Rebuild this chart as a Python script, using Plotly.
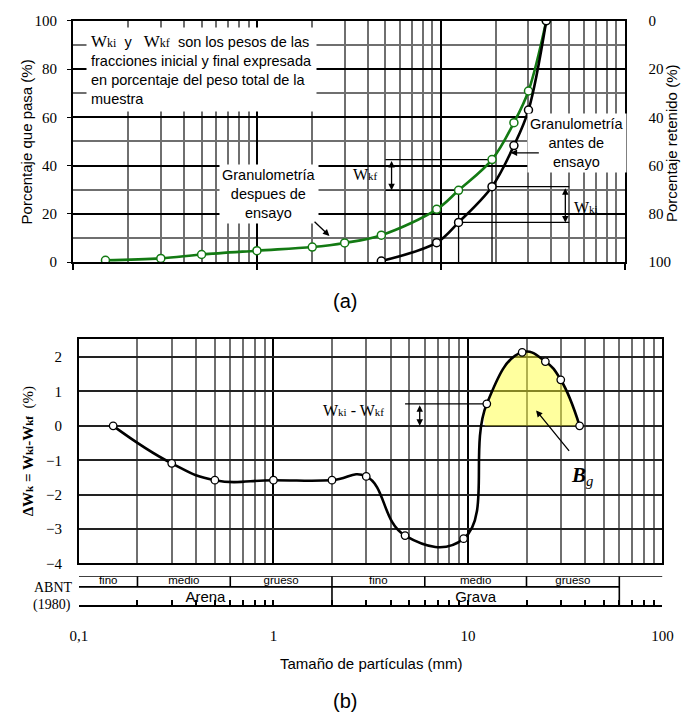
import numpy as np
import plotly.graph_objects as go

# ---------------- data ----------------
sizes_after = [0.15, 0.3, 0.5, 1.0, 2.0, 3.0, 4.75, 9.5, 12.5, 19.0, 25.0, 30.0, 37.5]
pass_after = [0.8, 1.6, 3.2, 4.8, 6.3, 8.0, 11.2, 21.9, 29.8, 42.5, 57.8, 70.9, 100.0]
sizes_before = [4.75, 9.5, 12.5, 19.0, 25.0, 30.0, 37.5]
pass_before = [0.5, 8.1, 16.5, 31.3, 48.3, 63.0, 100.0]
sizes_delta = [0.15, 0.3, 0.5, 1.0, 2.0, 3.0, 4.75, 9.5, 12.5, 19.0, 25.0, 30.0, 37.5]
delta_wk = [0.0, -1.09, -1.58, -1.58, -1.58, -1.47, -3.19, -3.28, 0.64, 2.14, 1.87, 1.34, 0.0]
bg_zero_cross = 12.2
abnt_bounds = [0.1, 0.2, 0.6, 2.0, 6.0, 20.0, 60.0]
abnt_sub = ["fino", "medio", "grueso", "fino", "medio", "grueso"]
abnt_main = ["Arena", "Grava"]
x_tick_vals = [0.1, 1, 10, 100]
x_tick_text = ["0,1", "1", "10", "100"]
pass_ticks = [0, 20, 40, 60, 80, 100]
pass_minor = [10, 30, 50, 70, 90]
delta_ticks = [-4, -3, -2, -1, 0, 1, 2]

# bracket helper positions (mm)
wkf_left = 5.0
wki_right = 50.0
wkf_arrow_x = 5.4
wki_arrow_x = 47.6
dw_left = 4.75
dw_arrow_x = 5.65

W, H = 689, 723
def px(x): return x / W
def py(y): return 1 - y / H

SERIF = "Liberation Serif"
SANS = "Liberation Sans"
GREEN = "#137a13"
MINOR = "#6f6f6f"
minor_x = [m * 10.0 ** e for e in (-1, 0, 1) for m in range(2, 10)]

fig = go.Figure()

# ---- top chart bracket lines ----
def seg(x0, y0, x1, y1, xa, ya, w=1.3):
    fig.add_trace(go.Scatter(x=[x0, x1], y=[y0, y1], mode="lines",
                             line=dict(color="black", width=w), xaxis=xa, yaxis=ya,
                             hoverinfo="skip", showlegend=False))

seg(wkf_left, pass_after[9], sizes_after[9], pass_after[9], "x", "y")
seg(sizes_after[9], pass_after[9], sizes_after[9], 0, "x", "y")
seg(wkf_left, pass_after[8], sizes_after[8], pass_after[8], "x", "y")
seg(sizes_after[8], pass_after[8], sizes_after[8], 0, "x", "y")
seg(sizes_before[3], pass_before[3], wki_right, pass_before[3], "x", "y")
seg(sizes_before[2], pass_before[2], wki_right, pass_before[2], "x", "y")

fig.add_trace(go.Scatter(x=sizes_after, y=pass_after, mode="lines+markers",
                         line=dict(color=GREEN, width=2.6, shape="spline"),
                         marker=dict(size=8, color="white", line=dict(color=GREEN, width=1.5)),
                         xaxis="x", yaxis="y", showlegend=False))
fig.add_trace(go.Scatter(x=sizes_before, y=pass_before, mode="lines+markers",
                         line=dict(color="black", width=2.6, shape="spline"),
                         marker=dict(size=8, color="white", line=dict(color="black", width=1.5)),
                         xaxis="x", yaxis="y", showlegend=False))
# invisible trace for retained axis
fig.add_trace(go.Scatter(x=[1], y=[50], mode="markers", marker=dict(opacity=0),
                         xaxis="x", yaxis="y2", showlegend=False, hoverinfo="skip"))

# ---- bottom chart ----
fig.add_trace(go.Scatter(x=[bg_zero_cross] + sizes_delta[8:], y=[0.0] + delta_wk[8:],
                         mode="lines", line=dict(width=0, shape="spline", smoothing=1.3),
                         fill="tozeroy", fillcolor="rgba(255,255,40,0.45)",
                         xaxis="x2", yaxis="y3", showlegend=False, hoverinfo="skip"))
seg(dw_left, delta_wk[8], sizes_delta[8], delta_wk[8], "x2", "y3")
fig.add_trace(go.Scatter(x=sizes_delta, y=delta_wk, mode="lines+markers",
                         line=dict(color="black", width=2.6, shape="spline", smoothing=1.3),
                         marker=dict(size=7.5, color="white", line=dict(color="black", width=1.3)),
                         xaxis="x2", yaxis="y3", showlegend=False))

# ---- ABNT table ----
mid = 0.633
seg(abnt_bounds[0], 1, 100, 1, "x3", "y4", 1.6)
seg(abnt_bounds[0], mid, abnt_bounds[-1], mid, "x3", "y4", 1.6)
for b in abnt_bounds[1:]:
    y0 = 0 if b in (abnt_bounds[3], abnt_bounds[6]) else mid
    seg(b, y0, b, 1, "x3", "y4", 1.6)
sub_x = [np.sqrt(abnt_bounds[i] * abnt_bounds[i + 1]) for i in range(6)]
fig.add_trace(go.Scatter(x=sub_x, y=[(1 + mid) / 2] * 6, mode="text", text=abnt_sub,
                         textfont=dict(family=SANS, size=11.5, color="black"),
                         xaxis="x3", yaxis="y4", showlegend=False, hoverinfo="skip"))
main_x = [np.sqrt(abnt_bounds[0] * abnt_bounds[3]), np.sqrt(abnt_bounds[3] * abnt_bounds[6])]
fig.add_trace(go.Scatter(x=main_x, y=[mid / 2 - 0.08] * 2, mode="text", text=abnt_main,
                         textfont=dict(family=SANS, size=15, color="black"),
                         xaxis="x3", yaxis="y4", showlegend=False, hoverinfo="skip"))

# ---------------- layout ----------------
tick_font = dict(family=SERIF, size=15, color="black")
xcommon = dict(type="log", range=[-1, 2], showline=True, linecolor="black", linewidth=2,
               zeroline=False)
fig.update_layout(
    width=W, height=H, margin=dict(l=0, r=0, t=0, b=0),
    paper_bgcolor="white", plot_bgcolor="white", showlegend=False,
    xaxis=dict(**xcommon, domain=[px(66), px(634)], anchor="y", mirror=True,
               tickvals=x_tick_vals, showticklabels=False, ticks="outside", ticklen=6,
               tickwidth=1.5, tickcolor="black",
               showgrid=True, gridcolor="black", gridwidth=2,
               minor=dict(tickvals=minor_x, showgrid=True, gridcolor=MINOR, gridwidth=1.5, ticks="")),
    yaxis=dict(domain=[py(260), py(13)], range=[0, 100], anchor="x", tickvals=pass_ticks,
               showline=True, linecolor="black", linewidth=2, mirror=True, zeroline=False,
               ticks="outside", ticklen=4, tickcolor="black", tickfont=tick_font,
               ticklabelstandoff=7,
               showgrid=True, gridcolor="black", gridwidth=1.6,
               minor=dict(tickvals=pass_minor, showgrid=True, gridcolor=MINOR, gridwidth=1.5, ticks="")),
    yaxis2=dict(overlaying="y", side="right", anchor="x", range=[100, 0], tickvals=pass_ticks,
                showgrid=False, zeroline=False, ticks="", tickfont=tick_font, ticklabelstandoff=23),
    xaxis2=dict(**xcommon, domain=[px(72), px(673)], anchor="y3", mirror=True,
                tickvals=x_tick_vals, showticklabels=False, ticks="",
                showgrid=True, gridcolor="black", gridwidth=2,
                minor=dict(tickvals=minor_x, showgrid=True, gridcolor=MINOR, gridwidth=1.5, ticks="")),
    yaxis3=dict(domain=[py(568), py(338)], range=[-4, 2.54], anchor="x2", tickvals=delta_ticks,
                showline=True, linecolor="black", linewidth=2, mirror=True, zeroline=False,
                ticks="", tickfont=tick_font, ticklabelstandoff=12,
                showgrid=True, gridcolor="#222222", gridwidth=1.6),
    xaxis3=dict(**xcommon, domain=[px(72), px(673)], anchor="y4",
                tickvals=x_tick_vals, ticktext=x_tick_text, ticks="inside", ticklen=5,
                tickwidth=1.5, tickcolor="black", tickfont=tick_font, ticklabelstandoff=16,
                showgrid=False,
                minor=dict(tickvals=minor_x, ticks="inside", ticklen=5, tickwidth=1.5,
                           tickcolor="black", showgrid=False)),
    yaxis4=dict(domain=[py(611), py(581)], range=[0, 1], anchor="x3", visible=False),
)

L = np.log10
ann = []
def txt(x, y, text, size=15, family=SANS, **kw):
    d = dict(x=x, y=y, xref="paper", yref="paper", text=text, showarrow=False,
             xanchor="center", yanchor="middle",
             font=dict(family=family, size=size, color="black"))
    d.update(kw)
    ann.append(d)

def arrow(xr, yr, x, y, ax, ay, both=False, head=2):
    ann.append(dict(xref=xr, yref=yr, axref=xr, ayref=yr, x=L(x), y=y, ax=L(ax), ay=ay,
                    text="", showarrow=True, arrowhead=head, arrowsize=1, arrowwidth=1.3,
                    arrowcolor="black", arrowside="end+start" if both else "end"))

# axis titles
txt(px(19), py(137), "Porcentaje que pasa (%)", textangle=-90)
txt(px(683), py(138), "Porcentaje retenido (%)", textangle=-90)
txt(px(373), py(670), "Tamaño de partículas (mm)")
txt(px(346), py(300), "(a)", size=20)
txt(px(346), py(709), "(b)", size=20)
sm = "<span style='font-size:11px'>%s</span>"
txt(px(21), py(453), "<b>ΔW" + sm % "k" + " = W" + sm % "ki" + "-W" + sm % "kf" + "</b>\u00a0\u00a0(%)",
    family=SERIF, textangle=-90)
txt(px(46), py(593), "ABNT", family=SERIF, size=14)
txt(px(44), py(611), "(1980)", family=SERIF, size=14)

# info box
ws = "<span style='font-family:Liberation Serif;font-size:17px'>W</span><span style='font-family:Liberation Serif;font-size:12px'>%s</span>"
box_text = (ws % "ki" + "\u00a0\u00a0y\u00a0\u00a0\u00a0" + ws % "kf" + "\u00a0\u00a0son los pesos de las<br>"
            "fracciones inicial y final expresada<br>en porcentaje del peso total de la<br>muestra")
txt(px(79), py(19), box_text, size=14.5, xanchor="left", yanchor="top", align="left",
    bgcolor="white", borderpad=4)

# curve labels
ann.append(dict(xref="x", yref="y", x=L(1.17), y=28.3, text="Granulometría<br>despues de<br>ensayo",
                showarrow=False, font=dict(family=SANS, size=14.5, color="black"),
                bgcolor="white", borderpad=2))
arrow("x", "y", 2.48, 10.9, 2.02, 17.4)
ann.append(dict(xref="x", yref="y", x=L(55.2), y=49.4, text="Granulometría<br>antes de<br>ensayo",
                showarrow=False, font=dict(family=SANS, size=14.5, color="black"),
                bgcolor="white", borderpad=2))
arrow("x", "y", 24.0, 45.3, 34.8, 45.3)

# W brackets top
wk = "W<span style='font-size:11px'>%s</span>"
ann.append(dict(xref="x", yref="y", x=L(3.9), y=36.4, text=wk % "kf", showarrow=False,
                font=dict(family=SERIF, size=16, color="black")))
arrow("x", "y", wkf_arrow_x, pass_after[8], wkf_arrow_x, pass_after[9], both=True)
ann.append(dict(xref="x", yref="y", x=L(62.0), y=22.7, text=wk % "ki", showarrow=False,
                font=dict(family=SERIF, size=16, color="black")))
arrow("x", "y", wki_arrow_x, pass_before[2], wki_arrow_x, pass_before[3], both=True)

# bottom annotations
ann.append(dict(xref="x2", yref="y3", x=L(2.59), y=0.45, text=wk % "ki" + " - " + wk % "kf",
                showarrow=False, font=dict(family=SERIF, size=16, color="black")))
arrow("x2", "y3", dw_arrow_x, 0.0, dw_arrow_x, delta_wk[8], both=True)
ann.append(dict(xref="x2", yref="y3", x=L(38.5), y=-1.45,
                text="<b><i>B</i></b><sub><i>g</i></sub>", showarrow=False,
                font=dict(family=SERIF, size=21, color="black")))
arrow("x2", "y3", 22.4, 0.45, 33.6, -0.77)

fig.update_layout(annotations=ann)
fig.write_html("out.html")
